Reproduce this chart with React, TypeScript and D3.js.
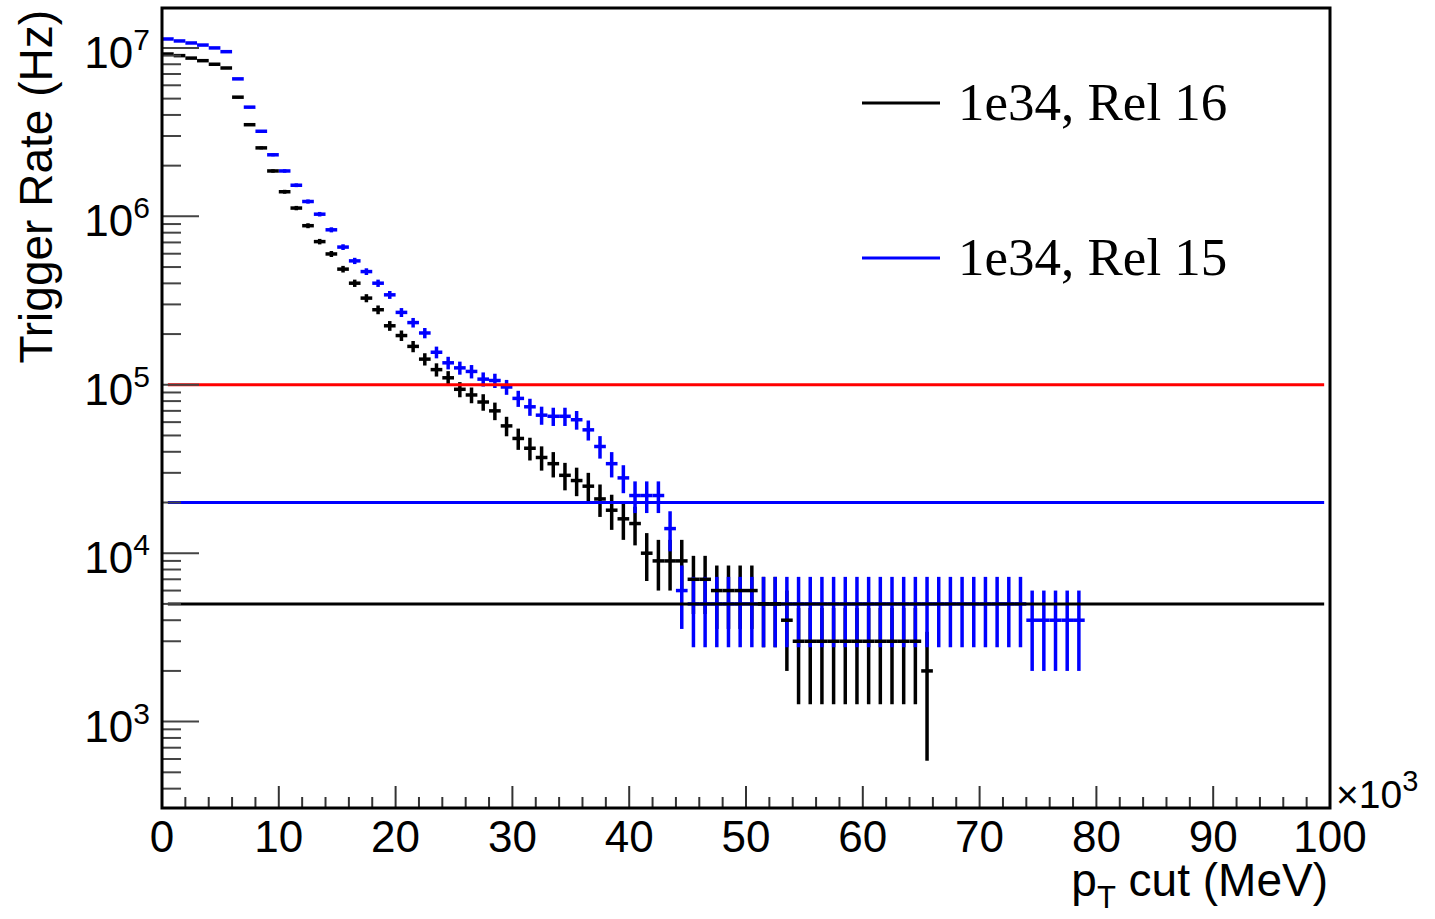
import React from "react";
import * as d3 from "d3";

// pT cut bins (units of 10^3 MeV), 1 bin = 1 x 10^3 MeV, bin i spans [i, i+1)
const BIN_WIDTH = 1;
const HZ_PER_EVENT = 1000;

// Trigger rate (Hz), 1e34, Rel 16 (black)
const rel16: number[] = [
  9.2e6, 9.0e6, 8.7e6, 8.4e6, 8.0e6, 7.6e6, 5.1e6, 3.5e6, 2.55e6, 1.86e6,
  1.40e6, 1.12e6, 880000, 708000, 598000, 486000, 401000, 327000, 279000, 224000,
  196000, 169000, 142000, 123000, 110000, 94000, 87000, 79000, 70000, 57000,
  48000, 42000, 37000, 34000, 29000, 27000, 25000, 21000, 18000, 16000,
  15000, 10000, 9000, 9000, 9000, 7000, 7000, 6000, 6000, 6000,
  6000, 5000, 5000, 4000, 3000, 3000, 3000, 3000, 3000, 3000,
  3000, 3000, 3000, 3000, 3000, 2000,
];

// Trigger rate (Hz), 1e34, Rel 15 (blue)
const rel15: number[] = [
  1.13e7, 1.10e7, 1.07e7, 1.04e7, 1.0e7, 9.5e6, 6.55e6, 4.45e6, 3.2e6, 2.32e6,
  1.86e6, 1.53e6, 1.225e6, 1.03e6, 832000, 657000, 544000, 470000, 401000, 342000,
  269000, 234000, 203000, 156000, 135000, 126000, 120000, 108000, 106000, 97000,
  83000, 74000, 66000, 65000, 65000, 62000, 54000, 43000, 34000, 28000,
  22000, 22000, 22000, 14000, 6000, 5000, 5000, 5000, 5000, 5000,
  5000, 5000, 5000, 5000, 5000, 5000, 5000, 5000, 5000, 5000,
  5000, 5000, 5000, 5000, 5000, 5000, 5000, 5000, 5000, 5000,
  5000, 5000, 5000, 5000, 4000, 4000, 4000, 4000, 4000,
];

// Horizontal reference rates (Hz)
const refLines = [
  { rate: 1e5, color: "#ff0000" },
  { rate: 2e4, color: "#0000ff" },
  { rate: 5e3, color: "#000000" },
];

const xTicks = [0, 10, 20, 30, 40, 50, 60, 70, 80, 90, 100];
const yDecades = [3, 4, 5, 6, 7];

const legendItems = [
  { label: "1e34, Rel 16", color: "#000000" },
  { label: "1e34, Rel 15", color: "#0000ff" },
];

const W = 1435;
const H = 919;
const FL = 162, FR = 1330, FT = 8, FB = 808;

const sans = "'Liberation Sans', Arial, Helvetica, sans-serif";
const serif = "'Liberation Serif', 'Times New Roman', serif";

export default function App() {
  const x = d3.scaleLinear().domain([0, 100]).range([FL, FR]);
  const y = d3.scaleLog().domain([307, 1.726e7]).range([FB, FT]);
  const [yMin, yMax] = y.domain();
  const clampY = (v: number) => y(Math.min(Math.max(v, yMin), yMax));

  const xMinor = d3.range(0, 100.001, 2).filter((t) => t % 10 !== 0);
  const yMinor: number[] = [];
  for (let e = 2; e <= 7; e++) {
    for (let m = 2; m <= 9; m++) {
      const v = m * Math.pow(10, e);
      if (v > yMin && v < yMax) yMinor.push(v);
    }
  }

  const err = (v: number) => Math.sqrt(v / HZ_PER_EVENT) * HZ_PER_EVENT;

  const renderHist = (vals: number[], color: string, part: "v" | "h") =>
    vals.map((v, i) => {
      if (v <= 0) return null;
      const x0 = x(i * BIN_WIDTH);
      const x1 = x((i + 1) * BIN_WIDTH);
      const xc = x((i + 0.5) * BIN_WIDTH);
      const e = err(v);
      if (part === "v") {
        return (
          <line key={i} x1={xc} x2={xc} y1={clampY(v + e)} y2={clampY(Math.max(v - e, 1))}
            stroke={color} strokeWidth={3.5} />
        );
      }
      return (
        <line key={i} x1={x0} x2={x1} y1={y(v)} y2={y(v)} stroke={color} strokeWidth={3.5} />
      );
    });

  return (
    <svg width={W} height={H} style={{ position: "absolute", left: 0, top: 0, background: "#fff" }}>
      <rect x={0} y={0} width={W} height={H} fill="#fff" />
      <defs>
        <clipPath id="frame">
          <rect x={FL} y={FT} width={FR - FL} height={FB - FT} />
        </clipPath>
      </defs>

      {/* histograms */}
      <g clipPath="url(#frame)">
        {renderHist(rel16, "#000", "v")}
        {renderHist(rel15, "#0000ff", "v")}
        {renderHist(rel15, "#0000ff", "h")}
        {renderHist(rel16, "#000", "h")}
        {refLines.map((l) => (
          <line key={l.rate} x1={x(0.5)} x2={x(99.5)} y1={y(l.rate)} y2={y(l.rate)}
            stroke={l.color} strokeWidth={3} />
        ))}
      </g>

      {/* y ticks */}
      {yDecades.map((e) => (
        <line key={"ym" + e} x1={FL} x2={FL + 37} y1={y(Math.pow(10, e))} y2={y(Math.pow(10, e))}
          stroke="#444" strokeWidth={2} />
      ))}
      {yMinor.map((v) => (
        <line key={"yn" + v} x1={FL} x2={FL + 19} y1={y(v)} y2={y(v)} stroke="#444" strokeWidth={2} />
      ))}
      {/* x ticks */}
      {xTicks.map((t) => (
        <line key={"xm" + t} x1={x(t)} x2={x(t)} y1={FB} y2={FB - 22} stroke="#333" strokeWidth={2} />
      ))}
      {xMinor.map((t) => (
        <line key={"xn" + t} x1={x(t)} x2={x(t)} y1={FB} y2={FB - 11} stroke="#333" strokeWidth={2} />
      ))}

      {/* frame */}
      <rect x={FL} y={FT} width={FR - FL} height={FB - FT} fill="none" stroke="#000" strokeWidth={3} />

      {/* y tick labels */}
      {yDecades.map((e) => (
        <text key={"yl" + e} x={150} y={y(Math.pow(10, e)) + 20} textAnchor="end"
          fontFamily={sans} fontSize={44} fill="#000">
          10<tspan dy={-18} fontSize={30}>{e}</tspan>
        </text>
      ))}

      {/* x tick labels */}
      {xTicks.map((t) => (
        <text key={"xl" + t} x={x(t)} y={852} textAnchor="middle" fontFamily={sans} fontSize={44} fill="#000">
          {t}
        </text>
      ))}
      <text x={1336} y={808} fontFamily={sans} fontSize={39} fill="#000">
        ×10<tspan dy={-17} fontSize={29}>3</tspan>
      </text>

      {/* axis titles */}
      <text x={1328} y={896} textAnchor="end" fontFamily={sans} fontSize={46} fill="#000">
        p<tspan dy={12} fontSize={31}>T</tspan>
        <tspan dy={-12}> cut (MeV)</tspan>
      </text>
      <text transform="translate(52,10) rotate(-90)" textAnchor="end" fontFamily={sans} fontSize={46} fill="#000">
        Trigger Rate (Hz)
      </text>

      {/* legend */}
      {legendItems.map((it, i) => {
        const ly = 103 + i * 155;
        return (
          <g key={it.label}>
            <line x1={862} x2={940} y1={ly} y2={ly} stroke={it.color} strokeWidth={3} />
            <text x={958} y={ly + 17} fontFamily={serif} fontSize={53} fill="#000">
              {it.label}
            </text>
          </g>
        );
      })}
    </svg>
  );
}
